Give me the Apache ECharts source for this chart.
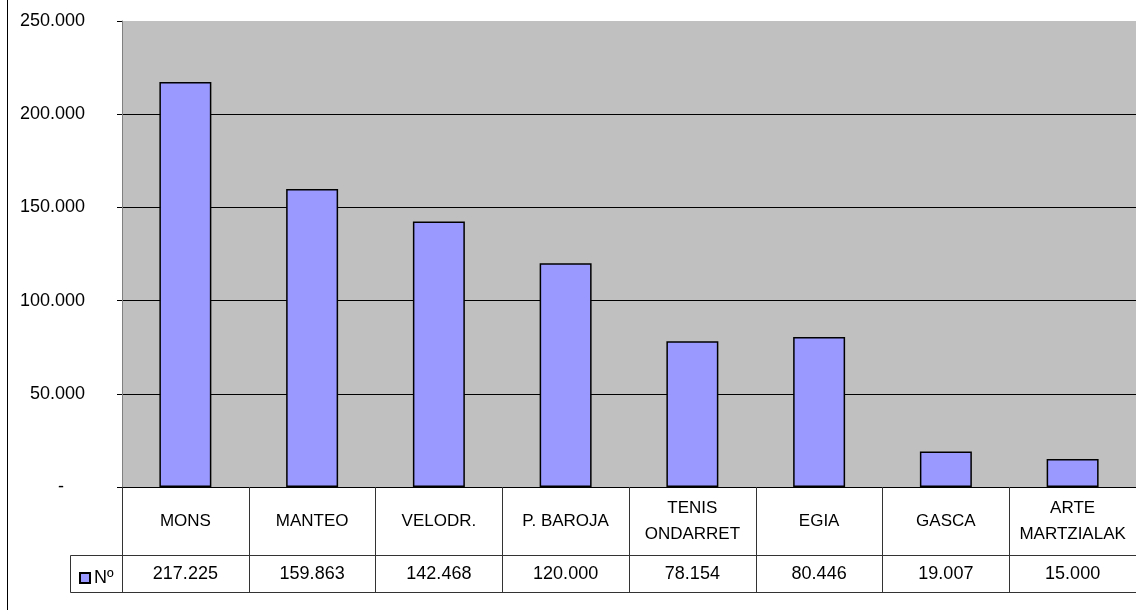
<!DOCTYPE html>
<html>
<head>
<meta charset="utf-8">
<script src="https://cdn.jsdelivr.net/npm/echarts@6/dist/echarts.min.js"></script>
<style>
html,body{margin:0;padding:0;background:#fff;}
#chart{width:1136px;height:610px;}
</style>
</head>
<body>
<div id="chart"></div>
<script>
const categories = ['MONS', 'MANTEO', 'VELODR.', 'P. BAROJA', 'TENIS\nONDARRET', 'EGIA', 'GASCA', 'ARTE\nMARTZIALAK'];
const values = [217225, 159863, 142468, 120000, 78154, 80446, 19007, 15000];
const seriesName = 'Nº';
const yTicks = { min: 0, max: 250000, interval: 50000 };

function fmt(v) {
  return String(v).replace(/\B(?=(\d{3})+(?!\d))/g, '.');
}
const valueLabels = values.map(fmt);

const FONT = '"Liberation Sans", Arial, sans-serif';
const chart = echarts.init(document.getElementById('chart'), null, { renderer: 'canvas' });
chart.setOption({
  backgroundColor: '#ffffff',
  animation: false,
  textStyle: { fontFamily: FONT },
  grid: { left: 122, top: 21, width: 1022, bottom: 123, containLabel: false,
          show: true, backgroundColor: '#C0C0C0', borderWidth: 0 },
  legend: {
    left: 74, top: 564, itemWidth: 10, itemHeight: 10, itemGap: 4,
    icon: 'rect', data: [seriesName],
    textStyle: { fontFamily: FONT, fontSize: 18, color: '#000', padding: [0, 0, 0, -1] }
  },
  xAxis: [
    {
      type: 'category', data: categories, position: 'bottom',
      axisLine: { show: true, lineStyle: { color: '#000', width: 1 } },
      axisTick: { show: true, alignWithLabel: false, length: 68, lineStyle: { color: '#333', width: 1 } },
      axisLabel: { margin: 34, verticalAlign: 'middle', lineHeight: 26, fontSize: 17, color: '#000', fontFamily: FONT, interval: 0 },
      splitLine: { show: false }
    },
    {
      type: 'category', data: valueLabels, position: 'bottom', offset: 68,
      axisLine: { show: true, lineStyle: { color: '#333', width: 1 } },
      axisTick: { show: true, alignWithLabel: false, length: 37, lineStyle: { color: '#333', width: 1 } },
      axisLabel: { margin: 19, verticalAlign: 'middle', fontSize: 18, color: '#000', fontFamily: FONT, interval: 0 },
      splitLine: { show: false }
    },
    {
      type: 'category', data: valueLabels, position: 'bottom', offset: 105,
      axisLine: { show: true, lineStyle: { color: '#333', width: 1 } },
      axisTick: { show: false }, axisLabel: { show: false }, splitLine: { show: false }
    }
  ],
  yAxis: {
    type: 'value', min: yTicks.min, max: yTicks.max, interval: yTicks.interval,
    axisLine: { show: true, lineStyle: { color: '#808080', width: 1 } },
    axisTick: { show: true, inside: false, length: 5, lineStyle: { color: '#000' } },
    axisLabel: {
      margin: 37, fontSize: 18, color: '#000', fontFamily: FONT,
      formatter: v => v === 0 ? '{d|-}' : fmt(v),
      rich: { d: { fontSize: 18, color: '#000', fontFamily: FONT, padding: [0, 21, 0, 0] } }
    },
    splitLine: { show: true, showMaxLine: false, showMinLine: false, lineStyle: { color: '#000', width: 1 } }
  },
  series: [{
    name: seriesName, type: 'bar', data: values, xAxisIndex: 0,
    barCategoryGap: '59%',
    itemStyle: { color: '#9999FF', borderColor: '#000', borderWidth: 1.5 }
  }],
  graphic: [
    { type: 'line', shape: { x1: 7.5, y1: 0, x2: 7.5, y2: 610 }, style: { stroke: '#000', lineWidth: 1 } },
    { type: 'rect', shape: { x: 70.5, y: 555.5, width: 52, height: 37 }, style: { fill: 'none', stroke: '#333', lineWidth: 1 }, z: 1 }
  ]
});
</script>
</body>
</html>
